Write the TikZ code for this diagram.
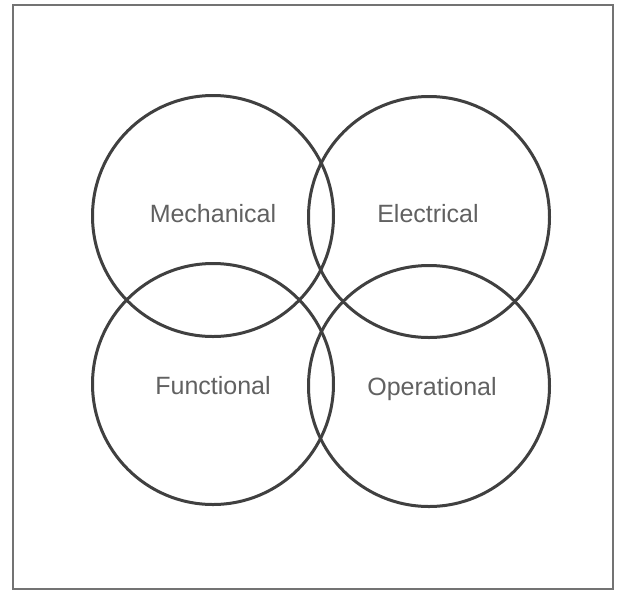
\documentclass[tikz,border=0pt]{standalone}
\usepackage{fontspec}
\setmainfont{Liberation Sans}
\begin{document}
\begin{tikzpicture}[x=0.5pt,y=-0.5pt,
  ring/.style={circle,draw=black!75,line width=1.5pt,minimum size=120.5pt,inner sep=0pt},
  lbl/.style={text=black!62,font=\fontsize{12.5}{15}\selectfont,inner sep=0pt,anchor=base},
  frame/.style={draw=black!55,line width=1pt}]
\useasboundingbox (0,0) rectangle (622,601);
\fill[white] (0,0) rectangle (622,601);
\draw[frame] (13,5) rectangle (613,589);
\node[ring] (mech) at (213,216) {};
\node[ring] (elec) at (429,217) {};
\node[ring] (func) at (213,384) {};
\node[ring] (oper) at (429,386) {};
\node[lbl] (tm) at (213,222) {Mechanical};
\node[lbl] (te) at (428,222) {Electrical};
\node[lbl] (tf) at (213,394.5) {Functional};
\node[lbl] (to) at (432,395) {Operational};
\end{tikzpicture}
\end{document}
